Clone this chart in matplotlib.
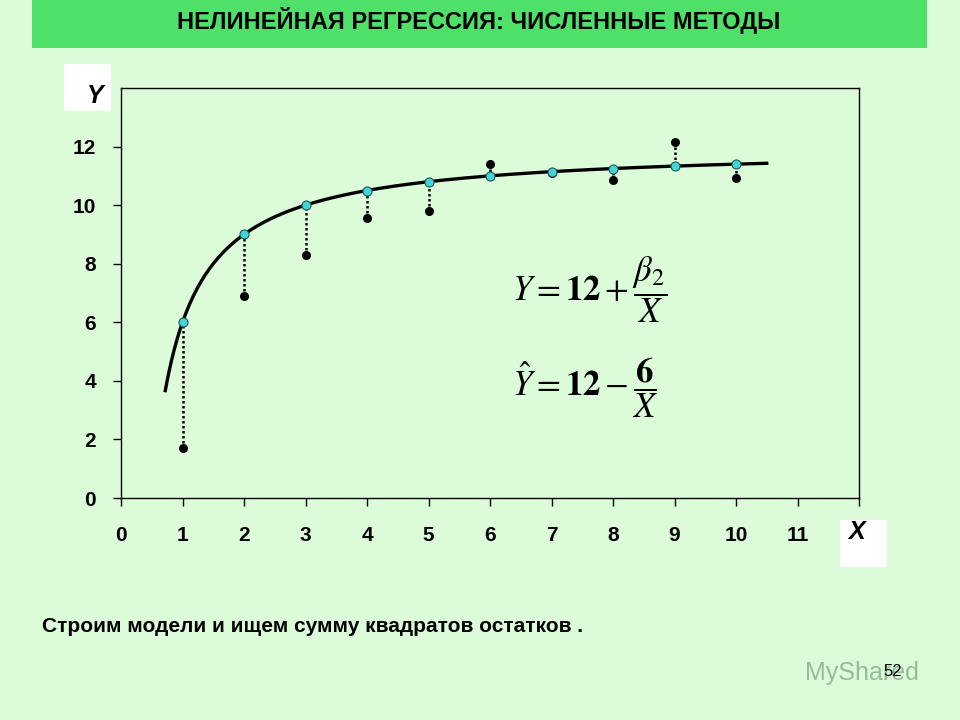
import numpy as np
import matplotlib.pyplot as plt
from matplotlib.patches import Rectangle

# data
x_obs = [1, 2, 3, 4, 5, 6, 7, 8, 9, 10]
y_obs = [1.7, 6.9, 8.3, 9.55, 9.8, 11.4, 11.1, 10.85, 12.15, 10.92]
y_fit = [6.0, 9.0, 10.0, 10.5, 10.8, 11.0, 11.14, 11.25, 11.33, 11.4]
b1, b2 = 12, -6          # model shown on the slide: Y^ = 12 - 6/X
x_ticks = list(range(0, 12))
y_ticks = list(range(0, 13, 2))

title = 'НЕЛИНЕЙНАЯ РЕГРЕССИЯ: ЧИСЛЕННЫЕ МЕТОДЫ'
footer = 'Строим модели и ищем сумму квадратов остатков .'

bg = '#dcfcd9'
bar = '#4fe06a'

plt.rcParams['font.family'] = ['Liberation Sans', 'DejaVu Sans']
plt.rcParams['mathtext.fontset'] = 'stix'

fig = plt.figure(figsize=(9.6, 7.2), dpi=100, facecolor=bg)

# title bar
fig.patches.append(Rectangle((32 / 960, 1 - 48 / 720), 895 / 960, 48 / 720,
                             transform=fig.transFigure, facecolor=bar, edgecolor='none'))
fig.text(479 / 960, 1 - 20 / 720, title, ha='center', va='center',
         fontsize=17, fontweight='bold')

ax = fig.add_axes([121 / 960, 1 - 498 / 720, 738 / 960, 410 / 720])
ax.set_facecolor(bg)
ax.set_xlim(0, 12)
ax.set_ylim(0, 14)

# curve of the model
xc = np.linspace(0.72, 10.5, 300)
ax.plot(xc, b1 + b2 / xc, color='black', lw=2.4, zorder=2)

# residuals
for xi, yo, yf in zip(x_obs, y_obs, y_fit):
    ax.plot([xi, xi], [yo, yf], color='black', lw=1.8, ls=(0, (1, 1)), zorder=1)

ax.plot(x_obs, y_obs, 'o', color='black', ms=5.5, zorder=3)
ax.plot(x_obs, y_fit, 'o', color='#45d4d4', mec='#1a5a5a', mew=0.8, ms=6.5, zorder=4)

ax.set_xticks(x_ticks + [12])
ax.set_xticklabels([str(t) for t in x_ticks] + [''], fontsize=15, fontweight='bold')
ax.set_yticks(y_ticks)
ax.set_yticklabels([str(t) for t in y_ticks], fontsize=15, fontweight='bold')
ax.tick_params(axis='both', direction='out', length=6, width=1, color='black')
ax.tick_params(axis='x', pad=14)
ax.tick_params(axis='y', pad=12)
for s in ax.spines.values():
    s.set_linewidth(1)

# axis name boxes
fig.patches.append(Rectangle((64 / 960, 1 - 111 / 720), 47 / 960, 47 / 720,
                             transform=fig.transFigure, facecolor='white', edgecolor='none'))
fig.text(95 / 960, 1 - 96 / 720, 'Y', ha='center', va='center', fontsize=18,
         fontweight='bold', fontstyle='italic')
fig.patches.append(Rectangle((840 / 960, 1 - 567 / 720), 47 / 960, 47 / 720,
                             transform=fig.transFigure, facecolor='white', edgecolor='none'))
fig.text(856 / 960, 1 - 532 / 720, 'X', ha='center', va='center', fontsize=18,
         fontweight='bold', fontstyle='italic')

# equations
fig.text(512 / 960, 1 - 290 / 720, r'$Y = \mathbf{12} + \dfrac{\beta_2}{X}$',
         ha='left', va='center', fontsize=25)
fig.text(512 / 960, 1 - 388 / 720, r'$\hat{Y} = \mathbf{12} - \dfrac{\mathbf{6}}{X}$',
         ha='left', va='center', fontsize=25)

fig.text(42 / 960, 1 - 627 / 720, footer, ha='left', va='center',
         fontsize=15, fontweight='bold')

fig.text(862 / 960, 1 - 673 / 720, 'MyShared', ha='center', va='center',
         fontsize=18, color='#2f5a38', alpha=0.4)
fig.text(893 / 960, 1 - 672 / 720, '52', ha='center', va='center', fontsize=12)

fig.savefig('out.png', dpi=100, facecolor=bg)
